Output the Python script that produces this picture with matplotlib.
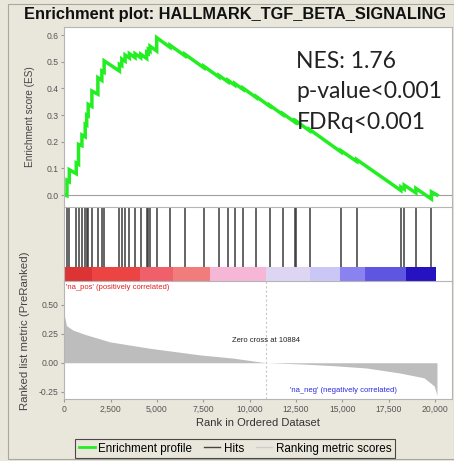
import matplotlib
matplotlib.use('Agg')
import matplotlib.pyplot as plt
import numpy as np
from matplotlib.lines import Line2D
from matplotlib.patches import Rectangle
from matplotlib.ticker import FuncFormatter

# ranks of the gene-set members (hits) in the ordered list
hit_ranks = [145, 269, 645, 769, 952, 1129, 1210, 1290, 1489, 1812, 2027, 2150, 2973, 3102, 3280,
             3511, 3817, 4123, 4446, 4532, 4623, 4984, 5699, 6505, 7526, 8349, 8833, 9193, 9639,
             10360, 11075, 11790, 12419, 12510, 13225, 14929, 15768, 18155, 18332, 18961, 19800]
# running enrichment score just before / after each hit
es_before = [-0.003, 0.050, 0.080, 0.115, 0.185, 0.218, 0.262, 0.297, 0.332, 0.378, 0.430, 0.460,
             0.465, 0.485, 0.502, 0.514, 0.515, 0.515, 0.512, 0.531, 0.540, 0.540, 0.554, 0.522,
             0.477, 0.442, 0.424, 0.412, 0.396, 0.365, 0.333, 0.301, 0.274, 0.273, 0.241, 0.161,
             0.126, 0.017, 0.022, 0.008, -0.015]
es_after = [0.055, 0.095, 0.120, 0.190, 0.225, 0.265, 0.300, 0.340, 0.390, 0.440, 0.465, 0.503,
            0.490, 0.510, 0.525, 0.530, 0.530, 0.528, 0.535, 0.545, 0.558, 0.590, 0.562, 0.528,
            0.483, 0.448, 0.430, 0.418, 0.401, 0.369, 0.337, 0.305, 0.278, 0.277, 0.246, 0.166,
            0.133, 0.030, 0.037, 0.025, 0.012]
n_genes = 20100

# ranked list metric
metric_ranks = [0, 120, 480, 1200, 2460, 4600, 7300, 9100, 10884, 12700, 14500, 16280, 18080,
                19400, 19950, 20100]
metric_vals = [0.41, 0.32, 0.28, 0.24, 0.18, 0.125, 0.068, 0.04, 0.0, -0.01, -0.025, -0.045,
               -0.088, -0.13, -0.2, -0.28]
zero_cross = 10884

# red-to-blue colour band
bar_edges = [0, 1500, 4077, 5872, 7847, 10899, 13233, 14849, 16195, 18439, 20055]
bar_colors = ['#dc3434', '#ec4343', '#f0606b', '#f07c7c', '#f6b6d6', '#ddd6f2', '#cac7f6',
              '#8a82f0', '#5e55e0', '#2612c0']

es_ticks = [0.0, 0.1, 0.2, 0.3, 0.4, 0.5, 0.6]
metric_ticks = [-0.25, 0.0, 0.25, 0.50]
x_ticks = [0, 2500, 5000, 7500, 10000, 12500, 15000, 17500, 20000]
stats_lines = ['NES: 1.76', 'p-value<0.001', 'FDRq<0.001']

bg = '#e9e7dc'
tick_col = '#555555'
plt.rcParams['font.family'] = ['Liberation Sans', 'DejaVu Sans']

W, H = 454, 461
fig = plt.figure(figsize=(W / 100, H / 100), dpi=100, facecolor=bg)


def box(x0, y0, x1, y1):
    # pixel box (top-left origin) -> figure fraction rect
    return [x0 / W, 1 - y1 / H, (x1 - x0) / W, (y1 - y0) / H]


xlim = (-15, 20910)
ax_es = fig.add_axes(box(64, 27, 452, 207))
ax_hit = fig.add_axes(box(64, 207, 452, 267))
ax_bar = fig.add_axes(box(64, 267, 452, 281.5))
ax_m = fig.add_axes(box(64, 281.5, 452, 399.3))

for ax in (ax_es, ax_hit, ax_bar, ax_m):
    ax.set_xlim(*xlim)
    ax.set_facecolor('white')
    for s in ax.spines.values():
        s.set_color('#b5b5b5')
        s.set_linewidth(0.8)
    ax.tick_params(length=2, color='#999999', labelsize=6.2, labelcolor=tick_col, pad=2)

# enrichment profile
xs = [0]
ys = [0.0]
for r, b, a in zip(hit_ranks, es_before, es_after):
    xs += [r, r]
    ys += [b, a]
xs.append(n_genes)
ys.append(0.0)
ax_es.axhline(0, color='#a0a0a0', lw=0.8)
ax_es.plot(xs, ys, color='#22ee22', lw=2.5, solid_joinstyle='miter')
ax_es.set_ylim(-0.045, 0.63)
ax_es.set_yticks(es_ticks)
ax_es.set_yticklabels([f'{t:.1f}' for t in es_ticks])
ax_es.set_xticks([])
ax_es.spines['bottom'].set_visible(False)
for i, s in enumerate(stats_lines):
    ax_es.text(0.599, 0.772 - i * 0.168, s, transform=ax_es.transAxes, fontsize=16.5,
               family='Lato', color='#222222', va='baseline')

# hits
ax_hit.vlines(hit_ranks, 0, 1, color='#3a3a3a', lw=1.1)
ax_hit.set_ylim(0, 1)
ax_hit.set_xticks([])
ax_hit.set_yticks([])
ax_hit.spines['bottom'].set_visible(False)

# colour band
lefts = bar_edges[:-1]
widths = np.diff(bar_edges)
ax_bar.bar(lefts, [1] * len(lefts), width=widths, align='edge', color=bar_colors, linewidth=0)
ax_bar.set_ylim(0, 1)
ax_bar.set_xticks([])
ax_bar.set_yticks([])
ax_bar.spines['top'].set_visible(False)

# ranked list metric
ax_m.fill_between(metric_ranks, metric_vals, 0, color='#bdbdbd', lw=0)
ax_m.axvline(zero_cross, color='#c8c8c8', lw=0.8, ls=(0, (2, 2)))
ax_m.set_ylim(-0.315, 0.70)
ax_m.set_yticks(metric_ticks)
ax_m.set_yticklabels(['-0.25', '0.00', '0.25', '0.50'])
ax_m.set_xticks(x_ticks)
ax_m.xaxis.set_major_formatter(FuncFormatter(lambda v, p: f'{int(v):,}'))
ax_m.text(zero_cross, 0.19, f'Zero cross at {zero_cross}', ha='center', va='center',
          fontsize=5.5, color='#222222')
ax_m.text(80, 0.645, "'na_pos' (positively correlated)", ha='left', va='center',
          fontsize=5.5, color='#e02020')
ax_m.text(17950, -0.24, "'na_neg' (negatively correlated)", ha='right', va='center',
          fontsize=5.5, color='#2a2ae0')
ax_m.set_xlabel('Rank in Ordered Dataset', fontsize=8, color='#333333', labelpad=3)

fig.text(30 / W, 1 - 117 / H, 'Enrichment score (ES)', rotation=90, ha='center', va='center',
         fontsize=7.2, color='#444444')
fig.text(25 / W, 1 - 331 / H, 'Ranked list metric (PreRanked)', rotation=90, ha='center',
         va='center', fontsize=8.2, color='#444444')

fig.text(235 / W, 1 - 15 / H, 'Enrichment plot: HALLMARK_TGF_BETA_SIGNALING', ha='center',
         va='center', fontsize=11.8, fontweight='bold', color='#111111')

# outer panel border
fig.patches.append(Rectangle((8 / W, 2 / H), (W - 8) / W, (H - 6) / H, transform=fig.transFigure,
                             fill=False, edgecolor='#aaa89a', lw=0.8))

handles = [Line2D([], [], color='#22ee22', lw=2),
           Line2D([], [], color='#444444', lw=1),
           Line2D([], [], color='#cccccc', lw=1)]
leg = fig.legend(handles, ['Enrichment profile', 'Hits', 'Ranking metric scores'], ncol=3,
                 loc='center', bbox_to_anchor=(235 / W, 1 - 448.5 / H), fontsize=8.4,
                 frameon=True, fancybox=False, handlelength=1.4, handletextpad=0.3,
                 columnspacing=1.0, borderpad=0.3)
leg.get_frame().set_edgecolor('#222222')
leg.get_frame().set_facecolor(bg)
leg.get_frame().set_linewidth(0.8)

fig.savefig('out.png', dpi=100, facecolor=bg)
